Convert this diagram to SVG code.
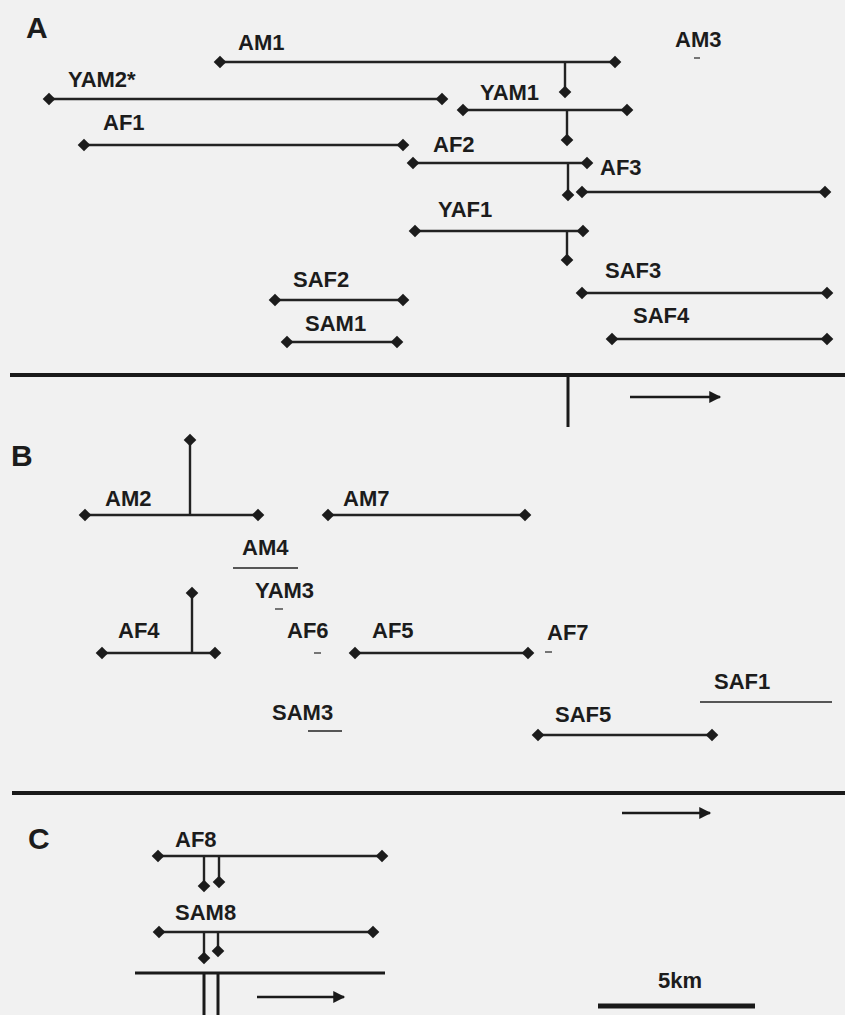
<svg xmlns="http://www.w3.org/2000/svg" xmlns:xlink="http://www.w3.org/1999/xlink" width="845" height="1015" viewBox="0 0 845 1015">
<style>
.lbl{font-family:"Liberation Sans",Arial,sans-serif;font-weight:bold;font-size:22px;fill:#1c1c1c}
.pan{font-family:"Liberation Sans",Arial,sans-serif;font-weight:bold;font-size:30px;fill:#1c1c1c}
.rng{stroke:#222;stroke-width:2.4;fill:none}
.con{stroke:#222;stroke-width:2.4;fill:none}
.riv{stroke:#1a1a1a;stroke-width:4;fill:none}
.arr{stroke:#1a1a1a;stroke-width:2.6;fill:none}
</style>
<defs>
<path id="dm" d="M0,-6.3 L6.3,0 L0,6.3 L-6.3,0Z" fill="#1c1c1c"/>
<marker id="ah" viewBox="0 0 10 10" refX="9" refY="5" markerWidth="5.2" markerHeight="4.6" orient="auto" markerUnits="strokeWidth">
<path d="M0,0 L10,5 L0,10Z" fill="#1a1a1a"/>
</marker>
</defs>
<rect width="845" height="1015" fill="#f1f1f1"/>

<g id="panel-labels">
<text class="pan" x="26" y="38">A</text>
<text class="pan" x="11" y="466">B</text>
<text class="pan" x="28" y="849">C</text>
</g>

<g id="rivers">
<line class="riv" x1="10" y1="375" x2="845" y2="375"/>
<line class="riv" x1="568" y1="375" x2="568" y2="427" style="stroke-width:3"/>
<line class="arr" x1="630" y1="397" x2="720" y2="397" marker-end="url(#ah)"/>
<line class="riv" x1="12" y1="793" x2="845" y2="793"/>
<line class="arr" x1="622" y1="813" x2="710" y2="813" marker-end="url(#ah)"/>
<line class="riv" x1="135" y1="973" x2="385" y2="973" style="stroke-width:3"/>
<line class="riv" x1="204" y1="973" x2="204" y2="1015" style="stroke-width:3"/>
<line class="riv" x1="218" y1="973" x2="218" y2="1015" style="stroke-width:3"/>
<line class="arr" x1="257" y1="997" x2="344" y2="997" marker-end="url(#ah)"/>
</g>

<g id="connectors">
<line class="con" x1="565" y1="62" x2="565" y2="92"/><use href="#dm" x="565" y="92"/>
<line class="con" x1="567" y1="110" x2="567" y2="140"/><use href="#dm" x="567" y="140"/>
<line class="con" x1="568" y1="163" x2="568" y2="195"/><use href="#dm" x="568" y="195"/>
<line class="con" x1="567" y1="231" x2="567" y2="260"/><use href="#dm" x="567" y="260"/>
<line class="con" x1="190" y1="440" x2="190" y2="515"/><use href="#dm" x="190" y="440"/>
<line class="con" x1="192" y1="593" x2="192" y2="653"/><use href="#dm" x="192" y="593"/>
<line class="con" x1="204" y1="856" x2="204" y2="886"/><use href="#dm" x="204" y="886"/>
<line class="con" x1="219" y1="856" x2="219" y2="882"/><use href="#dm" x="219" y="882"/>
<line class="con" x1="204" y1="932" x2="204" y2="958"/><use href="#dm" x="204" y="958"/>
<line class="con" x1="218" y1="932" x2="218" y2="951"/><use href="#dm" x="218" y="951"/>
</g>

<g id="AM1"><text class="lbl" x="238" y="50">AM1</text><line class="rng" x1="220" y1="62" x2="615" y2="62"/><use href="#dm" x="220" y="62"/><use href="#dm" x="615" y="62"/></g>
<g id="AM3"><text class="lbl" x="675" y="47">AM3</text><line class="rng" x1="694" y1="58" x2="700" y2="58" style="stroke-width:1.2"/></g>
<g id="YAM2"><text class="lbl" x="68" y="87">YAM2*</text><line class="rng" x1="49" y1="99" x2="442" y2="99"/><use href="#dm" x="49" y="99"/><use href="#dm" x="442" y="99"/></g>
<g id="YAM1"><text class="lbl" x="480" y="100">YAM1</text><line class="rng" x1="463" y1="110" x2="627" y2="110"/><use href="#dm" x="463" y="110"/><use href="#dm" x="627" y="110"/></g>
<g id="AF1"><text class="lbl" x="103" y="130">AF1</text><line class="rng" x1="84" y1="145" x2="403" y2="145"/><use href="#dm" x="84" y="145"/><use href="#dm" x="403" y="145"/></g>
<g id="AF2"><text class="lbl" x="433" y="152">AF2</text><line class="rng" x1="413" y1="163" x2="587" y2="163"/><use href="#dm" x="413" y="163"/><use href="#dm" x="587" y="163"/></g>
<g id="AF3"><text class="lbl" x="600" y="175">AF3</text><line class="rng" x1="582" y1="192" x2="825" y2="192"/><use href="#dm" x="582" y="192"/><use href="#dm" x="825" y="192"/></g>
<g id="YAF1"><text class="lbl" x="438" y="217">YAF1</text><line class="rng" x1="415" y1="231" x2="583" y2="231"/><use href="#dm" x="415" y="231"/><use href="#dm" x="583" y="231"/></g>
<g id="SAF3"><text class="lbl" x="605" y="278">SAF3</text><line class="rng" x1="582" y1="293" x2="827" y2="293"/><use href="#dm" x="582" y="293"/><use href="#dm" x="827" y="293"/></g>
<g id="SAF4"><text class="lbl" x="633" y="323">SAF4</text><line class="rng" x1="612" y1="339" x2="827" y2="339"/><use href="#dm" x="612" y="339"/><use href="#dm" x="827" y="339"/></g>
<g id="SAF2"><text class="lbl" x="293" y="287">SAF2</text><line class="rng" x1="275" y1="300" x2="403" y2="300"/><use href="#dm" x="275" y="300"/><use href="#dm" x="403" y="300"/></g>
<g id="SAM1"><text class="lbl" x="305" y="331">SAM1</text><line class="rng" x1="287" y1="342" x2="397" y2="342"/><use href="#dm" x="287" y="342"/><use href="#dm" x="397" y="342"/></g>

<g id="AM2"><text class="lbl" x="105" y="506">AM2</text><line class="rng" x1="85" y1="515" x2="258" y2="515"/><use href="#dm" x="85" y="515"/><use href="#dm" x="258" y="515"/></g>
<g id="AM7"><text class="lbl" x="343" y="506">AM7</text><line class="rng" x1="328" y1="515" x2="525" y2="515"/><use href="#dm" x="328" y="515"/><use href="#dm" x="525" y="515"/></g>
<g id="AM4"><text class="lbl" x="242" y="555">AM4</text><line class="rng" x1="233" y1="568" x2="298" y2="568" style="stroke-width:1.5"/></g>
<g id="YAM3"><text class="lbl" x="255" y="598">YAM3</text><line class="rng" x1="275" y1="609" x2="283" y2="609" style="stroke-width:1.2"/></g>
<g id="AF4"><text class="lbl" x="118" y="638">AF4</text><line class="rng" x1="102" y1="653" x2="215" y2="653"/><use href="#dm" x="102" y="653"/><use href="#dm" x="215" y="653"/></g>
<g id="AF6"><text class="lbl" x="287" y="638">AF6</text><line class="rng" x1="314" y1="653" x2="321" y2="653" style="stroke-width:1.2"/></g>
<g id="AF5"><text class="lbl" x="372" y="638">AF5</text><line class="rng" x1="355" y1="653" x2="528" y2="653"/><use href="#dm" x="355" y="653"/><use href="#dm" x="528" y="653"/></g>
<g id="AF7"><text class="lbl" x="547" y="640">AF7</text><line class="rng" x1="545" y1="652" x2="552" y2="652" style="stroke-width:1.2"/></g>
<g id="SAF1"><text class="lbl" x="714" y="689">SAF1</text><line class="rng" x1="700" y1="702" x2="832" y2="702" style="stroke-width:1.5"/></g>
<g id="SAM3"><text class="lbl" x="272" y="720">SAM3</text><line class="rng" x1="308" y1="731" x2="342" y2="731" style="stroke-width:1.5"/></g>
<g id="SAF5"><text class="lbl" x="555" y="722">SAF5</text><line class="rng" x1="538" y1="735" x2="712" y2="735"/><use href="#dm" x="538" y="735"/><use href="#dm" x="712" y="735"/></g>

<g id="AF8"><text class="lbl" x="175" y="847">AF8</text><line class="rng" x1="158" y1="856" x2="382" y2="856"/><use href="#dm" x="158" y="856"/><use href="#dm" x="382" y="856"/></g>
<g id="SAM8"><text class="lbl" x="175" y="920">SAM8</text><line class="rng" x1="159" y1="932" x2="373" y2="932"/><use href="#dm" x="159" y="932"/><use href="#dm" x="373" y="932"/></g>

<g id="scale"><text class="lbl" x="658" y="988">5km</text><line x1="598" y1="1006" x2="755" y2="1006" stroke="#1a1a1a" stroke-width="5"/></g>
</svg>
